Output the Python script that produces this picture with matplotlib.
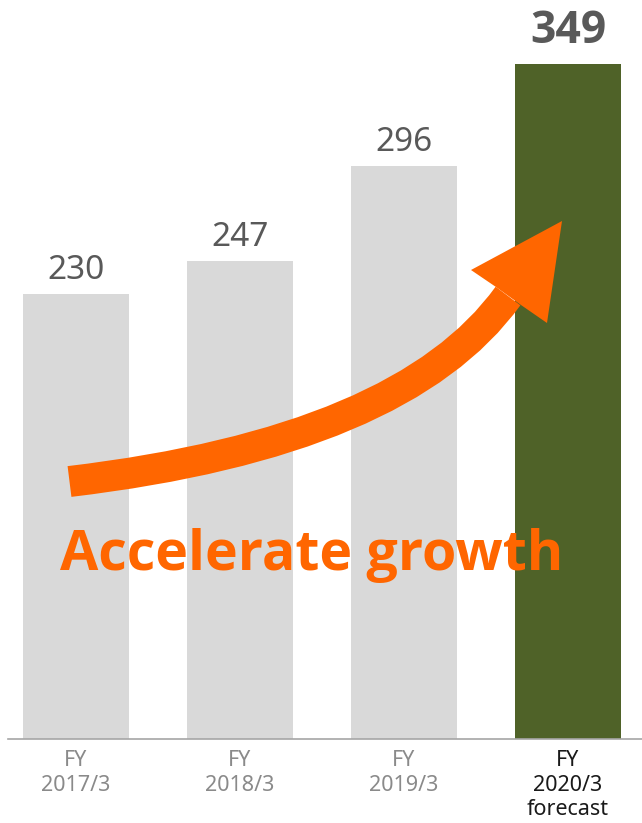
import matplotlib
matplotlib.use("Agg")
import matplotlib.pyplot as plt
from matplotlib.path import Path
from matplotlib.patches import PathPatch, Polygon
from matplotlib.transforms import Affine2D

plt.rcParams['font.family'] = ['Noto Sans', 'DejaVu Sans']
BOLD = ['Open Sans', 'Roboto', 'DejaVu Sans']

years = ["FY\n2017/3", "FY\n2018/3", "FY\n2019/3", "FY\n2020/3\nforecast"]
values = [230, 247, 296, 349]
bar_colors = ["#D9D9D9", "#D9D9D9", "#D9D9D9", "#4F6228"]
tick_colors = ["#8A8A8A", "#8A8A8A", "#8A8A8A", "#1A1A1A"]

W, H = 642, 823
fig = plt.figure(figsize=(W / 100, H / 100), dpi=100)
ax = fig.add_axes([8 / W, 1 - 739 / H, (W - 8) / W, 739 / H])

x = list(range(len(values)))
ax.bar(x, values, width=0.646, color=bar_colors, zorder=1)
ax.set_xlim(-0.415, 3.451)
ax.set_ylim(0, 382)

for i, v in enumerate(values):
    last = i == len(values) - 1
    ax.annotate(str(v), (i, v), xytext=(0, 15 if last else 11),
                textcoords="offset points", ha="center", va="baseline",
                fontsize=32 if last else 24,
                family=BOLD if last else None,
                fontweight="bold" if last else "normal", color="#595959")

ax.set_xticks(x)
ax.set_xticklabels(years, fontsize=15.5, linespacing=1.22)
for lab, c in zip(ax.get_xticklabels(), tick_colors):
    lab.set_color(c)
ax.tick_params(axis="x", length=0, pad=8)
ax.set_yticks([])
for s in ["top", "right", "left"]:
    ax.spines[s].set_visible(False)
ax.spines["bottom"].set_color("#A6A6A6")
ax.spines["bottom"].set_linewidth(1.2)

# arrow drawn in pixel coordinates of the figure
px = Affine2D().scale(1 / W, -1 / H).translate(0, 1) + fig.transFigure
shaft = Path([(69.5, 481.5), (403, 442), (508, 296)],
             [Path.MOVETO, Path.CURVE3, Path.CURVE3])
fig.patches.append(PathPatch(shaft, transform=px, fill=False,
                             edgecolor="#FF6600", lw=22.3, capstyle="butt",
                             zorder=3))
head = [(562, 221), (547, 323), (521, 305), (496, 287), (471, 270)]
fig.patches.append(Polygon(head, closed=True, transform=px,
                           facecolor="#FF6600", edgecolor="none", zorder=3))

fig.text(312 / W, 1 - 570 / H, "Accelerate growth", ha="center",
         va="baseline", fontsize=40, family=BOLD, fontweight="bold",
         color="#FF6600", zorder=4)

fig.savefig("out.png", dpi=100)
